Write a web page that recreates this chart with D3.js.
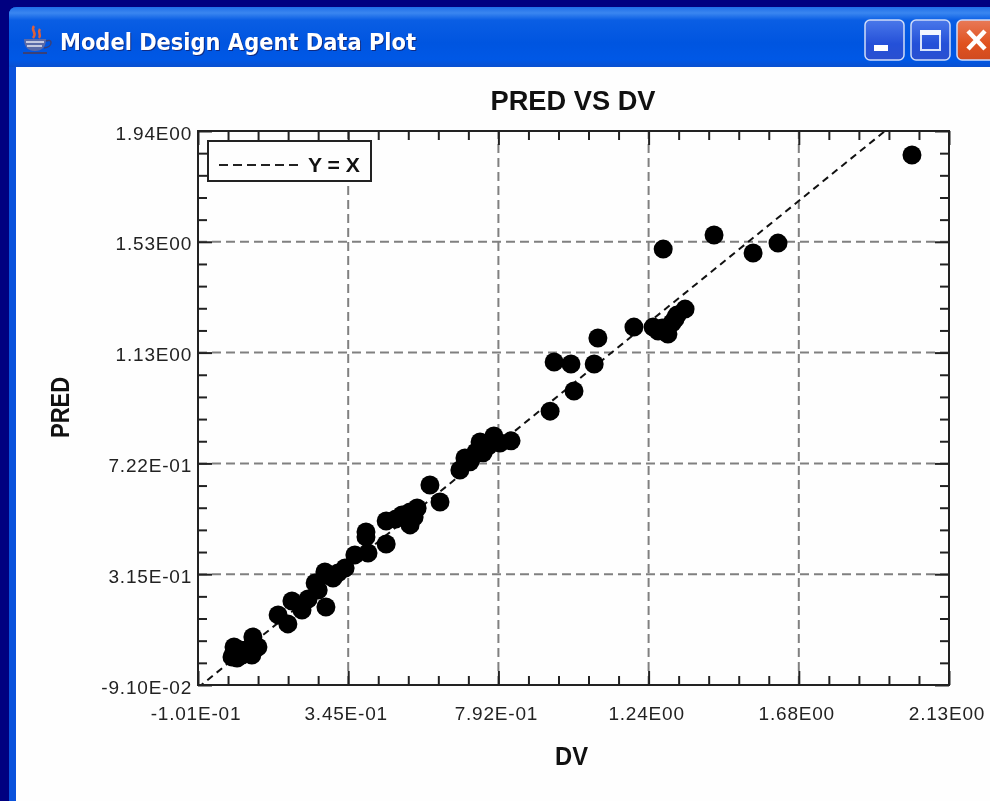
<!DOCTYPE html>
<html lang="en">
<head>
<meta charset="utf-8">
<title>Model Design Agent Data Plot</title>
<script src="https://d3js.org/d3.v7.min.js"></script>
<style>
html, body { margin: 0; padding: 0; background: #000080; overflow: hidden; }
svg { display: block; filter: blur(0.5px); }
text { font-family: "Liberation Sans", Arial, sans-serif; }
</style>
</head>
<body>
<div id="plot"></div>
<script>
// values
var dv = [0.006, 0.000, 0.015, 0.030, 0.062, 0.077, 0.059, 0.006, 0.137, 0.166,
	0.178, 0.208, 0.226, 0.279, 0.247, 0.282, 0.300, 0.276, 0.315, 0.336,
	0.365, 0.404, 0.398, 0.398, 0.458, 0.458, 0.529, 0.505, 0.529, 0.550,
	0.588, 0.618, 0.677, 0.692, 0.713, 0.737, 0.737, 0.746, 0.778, 0.796,
	0.829, 0.945, 1.016, 0.957, 1.007, 1.076, 1.087, 1.194, 1.251, 1.278,
	1.295, 1.307, 1.322, 1.346, 1.281, 1.432, 1.548, 1.622, 2.020,
	0.725, 0.707, 0.761, 0.487, 0.541, 0.024, 0.042, 0.256, 1.266, 1.316];
var pred = [0.048, 0.012, 0.008, 0.019, 0.085, 0.048, 0.019, 0.030, 0.166, 0.133,
	0.217, 0.184, 0.224, 0.195, 0.283, 0.312, 0.301, 0.323, 0.320, 0.338,
	0.386, 0.393, 0.470, 0.452, 0.426, 0.510, 0.496, 0.532, 0.543, 0.558,
	0.642, 0.580, 0.697, 0.741, 0.745, 0.778, 0.800, 0.760, 0.822, 0.796,
	0.804, 0.913, 0.987, 1.093, 1.086, 1.086, 1.181, 1.221, 1.221, 1.218,
	1.196, 1.236, 1.265, 1.287, 1.507, 1.559, 1.493, 1.529, 1.852,
	0.763, 0.727, 0.785, 0.518, 0.525, 0.037, 0.037, 0.257, 1.207, 1.251];

var xTicks = [-0.101, 0.3452, 0.7914, 1.2376, 1.6838, 2.13];
var yTicks = [-0.091, 0.3152, 0.7214, 1.1276, 1.5338, 1.94];
var xLabels = ["-1.01E-01", "3.45E-01", "7.92E-01", "1.24E00", "1.68E00", "2.13E00"];
var yLabels = ["-9.10E-02", "3.15E-01", "7.22E-01", "1.13E00", "1.53E00", "1.94E00"];

var width = 990, height = 801;
var left = 198, right = 949, top_ = 131, bottom = 685;

var svg = d3.select("#plot").append("svg")
	.attr("width", width)
	.attr("height", height);

var defs = svg.append("defs");

function gradient(id, stops) {
	var g = defs.append("linearGradient").attr("id", id)
		.attr("x1", 0).attr("y1", 0).attr("x2", 0).attr("y2", 1);
	stops.forEach(function(s) {
		g.append("stop").attr("offset", s[0]).attr("stop-color", s[1]);
	});
}
gradient("bar", [[0, "#1f6fe8"], [0.1, "#3a86f0"], [0.22, "#0a5ee4"], [0.6, "#0055e0"], [0.88, "#0058e6"], [1, "#0a50d0"]]);
gradient("btn", [[0, "#4a78ea"], [0.6, "#2450d8"], [1, "#2a50d0"]]);
gradient("cls", [[0, "#e87a58"], [0.6, "#e0521f"], [1, "#d04a20"]]);

defs.append("clipPath").attr("id", "plotarea").append("rect")
	.attr("x", left).attr("y", top_)
	.attr("width", right - left).attr("height", bottom - top_);

// --- window frame
svg.append("rect").attr("width", width).attr("height", height).attr("fill", "#000080");
svg.append("path")
	.attr("d", "M9,801V15Q9,7 17,7H990V801Z")
	.attr("fill", "#0a52dc");
svg.append("path")
	.attr("d", "M9,67V15Q9,7 17,7H990V67Z")
	.attr("fill", "url(#bar)");
svg.append("rect").attr("x", 16).attr("y", 67).attr("width", 974).attr("height", 734).attr("fill", "#fefefe");

// title bar
var icon = svg.append("g").attr("transform", "translate(22,23)");
icon.append("path").attr("d", "M12,3C8,8 16,9 11,15M18,6C15,10 20,11 17,15")
	.attr("fill", "none").attr("stroke", "#e0603a").attr("stroke-width", 2.5);
icon.append("path").attr("d", "M2,16H24C24,24 20,28 13,28C6,28 2,24 2,16Z").attr("fill", "#5a6aa8");
icon.append("path").attr("d", "M24,18C31,15 31,24 22,25").attr("fill", "none").attr("stroke", "#3a4078").attr("stroke-width", 1.5);
icon.append("path").attr("d", "M4,19H22M5,23H20").attr("stroke", "#e8e8f4").attr("stroke-width", 1.5);
icon.append("path").attr("d", "M1,30H25").attr("stroke", "#3a4078").attr("stroke-width", 2);

[[61, 51, "#102a80"], [60, 50, "#fff"]].forEach(function(t) {
	svg.append("text").attr("x", t[0]).attr("y", t[1])
		.attr("fill", t[2]).attr("font-size", 23).attr("font-weight", "bold")
		.style("font-family", '"DejaVu Sans", sans-serif')
		.attr("textLength", 356).attr("lengthAdjust", "spacingAndGlyphs")
		.text("Model Design Agent Data Plot");
});

[[865, "url(#btn)"], [911, "url(#btn)"], [957, "url(#cls)"]].forEach(function(b) {
	svg.append("rect").attr("x", b[0]).attr("y", 20)
		.attr("width", 39).attr("height", 40).attr("rx", 5)
		.attr("fill", b[1]).attr("stroke", "#d0dcf8").attr("stroke-width", 1.5);
});
svg.append("rect").attr("x", 874).attr("y", 45).attr("width", 14).attr("height", 6).attr("fill", "#fff");
svg.append("rect").attr("x", 921).attr("y", 31).attr("width", 19).attr("height", 19)
	.attr("fill", "none").attr("stroke", "#d8e4fc").attr("stroke-width", 2);
svg.append("rect").attr("x", 920).attr("y", 30).attr("width", 21).attr("height", 5).attr("fill", "#f4f8ff");
svg.append("path").attr("d", "M968,31L985,49M985,31L968,49")
	.attr("stroke", "#fff").attr("stroke-width", 4.5);

// --- scales
var x = d3.scaleLinear().domain([xTicks[0], xTicks[5]]).range([left, right]);
var y = d3.scaleLinear().domain([yTicks[0], yTicks[5]]).range([bottom, top_]);

// minor ticks sit at fifths between the labelled ones
function minors(t) {
	var out = [];
	for (var i = 0; i < t.length - 1; i++) {
		for (var j = 1; j < 5; j++) out.push(t[i] + (t[i + 1] - t[i]) * j / 5);
	}
	return out;
}

// --- grid
var grid = svg.append("g")
	.attr("fill", "none").attr("stroke", "#808080").attr("stroke-width", 2).attr("stroke-dasharray", "9,5");
grid.selectAll(".gx").data(xTicks.slice(1, 5)).enter().append("line")
	.attr("x1", function(d) { return x(d); }).attr("x2", function(d) { return x(d); })
	.attr("y1", bottom).attr("y2", top_);
grid.selectAll(".gy").data(yTicks.slice(1, 5)).enter().append("line")
	.attr("y1", function(d) { return y(d); }).attr("y2", function(d) { return y(d); })
	.attr("x1", left).attr("x2", right);

// --- y = x line
var diag = d3.line()
	.x(function(d) { return x(d); })
	.y(function(d) { return y(d); });
svg.append("path")
	.datum([-0.101, 2.13])
	.attr("clip-path", "url(#plotarea)")
	.attr("d", diag)
	.attr("fill", "none")
	.attr("stroke", "#111")
	.attr("stroke-width", 2)
	.attr("stroke-dasharray", "7,5");

// --- dots
svg.selectAll(".dot").data(dv).enter().append("circle")
	.attr("class", "dot")
	.attr("cx", function(d) { return x(d); })
	.attr("cy", function(d, i) { return y(pred[i]); })
	.attr("r", 9.5)
	.attr("fill", "#000");

// --- axes, ticks point inwards on all four sides
function drawTicks(make, scale, ticks, tx, size) {
	var g = svg.append("g").attr("transform", tx)
		.call(make(scale).tickValues(ticks).tickSize(size).tickFormat(""));
	g.select(".domain").remove();
	g.selectAll("line").attr("stroke", "#222").attr("stroke-width", 2);
}
var minorX = minors(xTicks), minorY = minors(yTicks);

drawTicks(d3.axisTop, x, xTicks, "translate(0," + bottom + ")", 14);
drawTicks(d3.axisTop, x, minorX, "translate(0," + bottom + ")", 9);
drawTicks(d3.axisBottom, x, xTicks, "translate(0," + top_ + ")", 14);
drawTicks(d3.axisBottom, x, minorX, "translate(0," + top_ + ")", 9);
drawTicks(d3.axisRight, y, yTicks, "translate(" + left + ",0)", 14);
drawTicks(d3.axisRight, y, minorY, "translate(" + left + ",0)", 9);
drawTicks(d3.axisLeft, y, yTicks, "translate(" + right + ",0)", 14);
drawTicks(d3.axisLeft, y, minorY, "translate(" + right + ",0)", 9);

svg.append("rect")
	.attr("x", left).attr("y", top_)
	.attr("width", right - left).attr("height", bottom - top_)
	.attr("fill", "none").attr("stroke", "#222").attr("stroke-width", 2);

// tick labels
svg.selectAll(".xl").data(xLabels).enter().append("text")
	.attr("x", function(d, i) { return x(xTicks[i]) - 2; })
	.attr("y", 720)
	.attr("text-anchor", "middle")
	.attr("font-size", 19)
	.attr("letter-spacing", 0.8)
	.attr("fill", "#222")
	.text(function(d) { return d; });
svg.selectAll(".yl").data(yLabels).enter().append("text")
	.attr("x", 192)
	.attr("y", function(d, i) { return y(yTicks[i]) + 8.5; })
	.attr("text-anchor", "end")
	.attr("font-size", 19)
	.attr("letter-spacing", 0.8)
	.attr("fill", "#222")
	.text(function(d) { return d; });

// titles
svg.append("text").attr("x", 573).attr("y", 110)
	.attr("text-anchor", "middle").attr("font-size", 27).attr("font-weight", "bold").attr("fill", "#111")
	.attr("textLength", 165).attr("lengthAdjust", "spacingAndGlyphs")
	.text("PRED VS DV");
svg.append("text").attr("x", 571.5).attr("y", 765)
	.attr("text-anchor", "middle").attr("font-size", 26).attr("font-weight", "bold").attr("fill", "#111")
	.attr("textLength", 33).attr("lengthAdjust", "spacingAndGlyphs")
	.text("DV");
svg.append("text").attr("transform", "translate(69,407.5) rotate(-90)")
	.attr("text-anchor", "middle").attr("font-size", 25).attr("font-weight", "bold").attr("fill", "#111")
	.attr("textLength", 61).attr("lengthAdjust", "spacingAndGlyphs")
	.text("PRED");

// legend
svg.append("rect").attr("x", 208).attr("y", 141).attr("width", 163).attr("height", 40)
	.attr("fill", "#fefefe").attr("stroke", "#222").attr("stroke-width", 2);
svg.append("line").attr("x1", 219).attr("x2", 300).attr("y1", 165).attr("y2", 165)
	.attr("stroke", "#222").attr("stroke-width", 2).attr("stroke-dasharray", "9,5");
svg.append("text").attr("x", 308).attr("y", 172)
	.attr("font-size", 21).attr("font-weight", "bold").attr("fill", "#111")
	.attr("textLength", 52).attr("lengthAdjust", "spacingAndGlyphs")
	.text("Y = X");
</script>
</body>
</html>
